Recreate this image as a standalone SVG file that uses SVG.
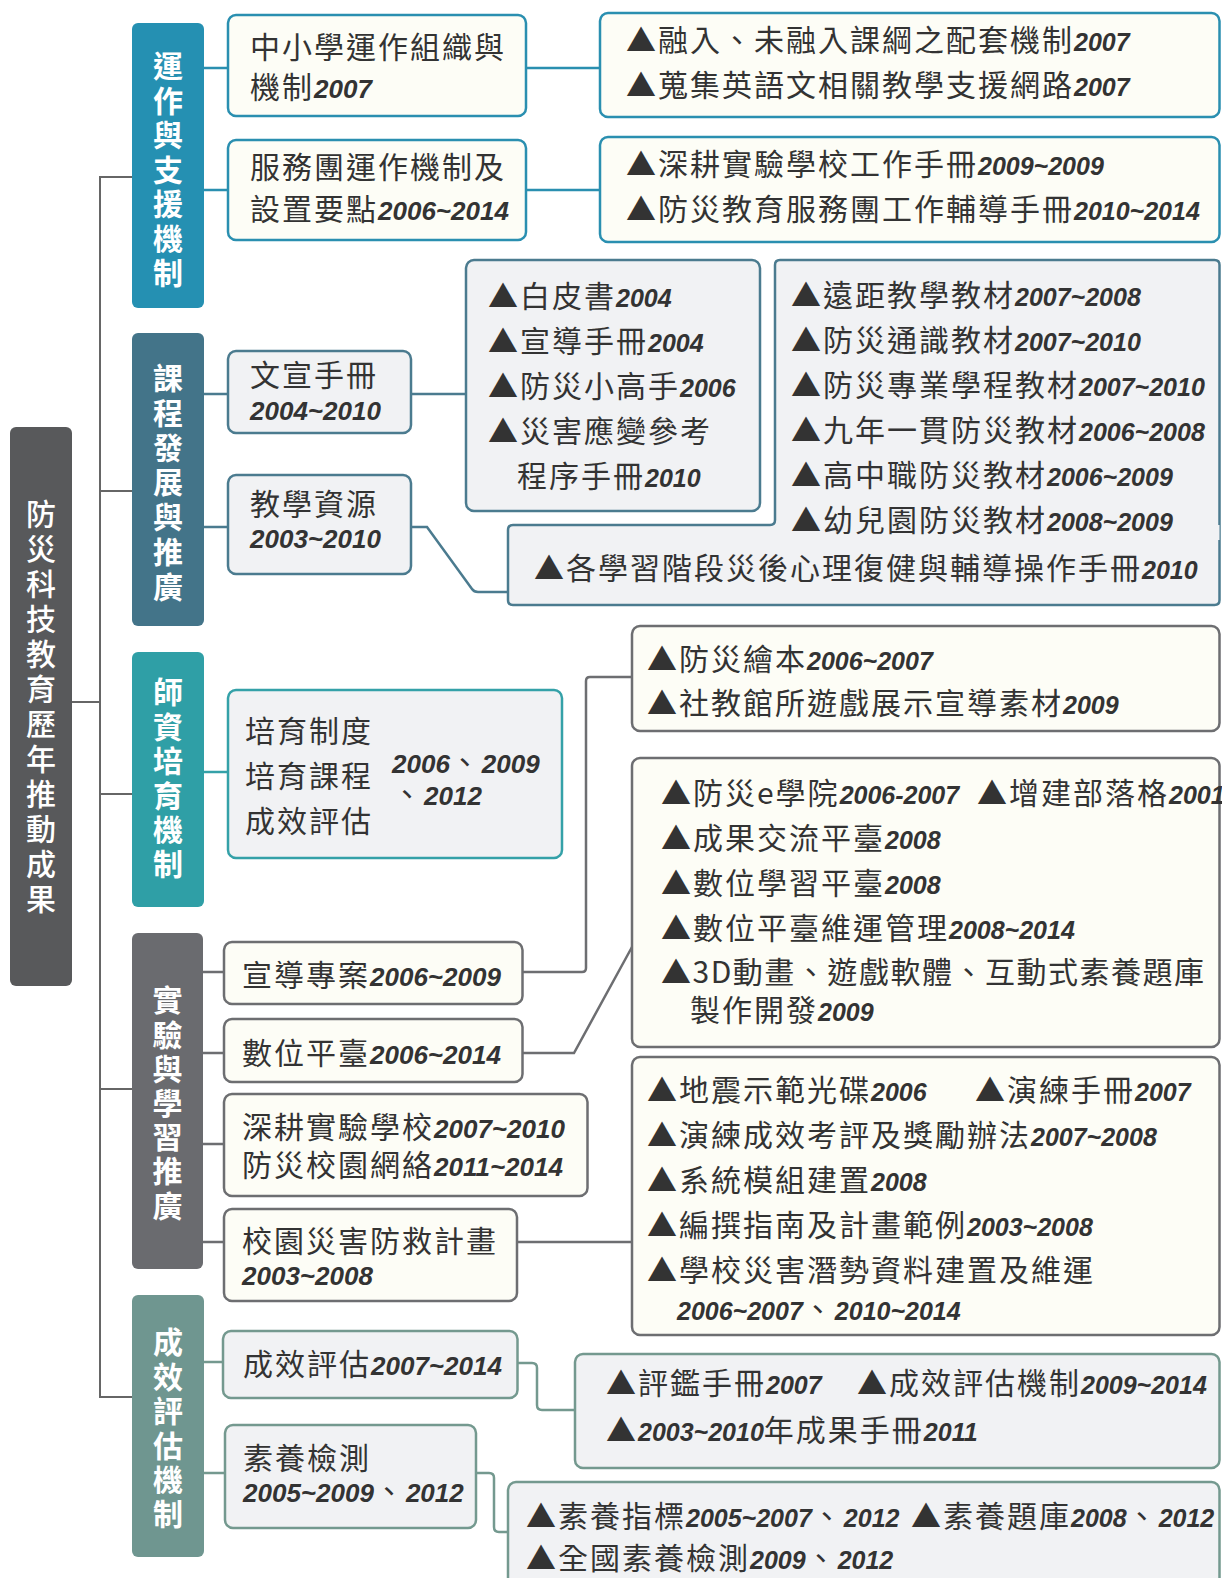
<svg xmlns="http://www.w3.org/2000/svg" width="1222" height="1578" viewBox="0 0 1222 1578">
<style>
text.t{font-family:"Noto Sans CJK TC","Noto Sans CJK SC",sans-serif;font-size:30px;fill:#333;letter-spacing:2px}
tspan.d{font-family:"Liberation Sans",Arial,sans-serif;font-weight:bold;font-style:italic;font-size:26px;letter-spacing:0px}
tspan.s{font-size:25px}
text.c{font-family:"Noto Sans CJK TC","Noto Sans CJK SC",sans-serif;font-size:30px;font-weight:bold;fill:#fff;writing-mode:vertical-rl;text-orientation:upright}
text.rt{font-weight:500}
.n{stroke-width:2.5}
.cr{fill:#fdfdf6}
.gr{fill:#f1f2f4}
.k1{stroke:#2a8fb0}
.k2{stroke:#4b7b8f}
.k3{stroke:#34a1a8}
.k4{stroke:#6d6e71}
.k5{stroke:#74998f}
.w{fill:none;stroke-width:2.5}
.tr{fill:none;stroke:#666;stroke-width:2}
</style>

<g id="connectors">
  <path class="tr" d="M132,177 H100 V1397 H132"/>
  <path class="tr" d="M72,702 H100 M100,491 H132 M100,794 H132 M100,1089 H132"/>
  <path class="w k1" d="M204,68 H228 M204,190 H228 M526,68 H600 M526,190 H600"/>
  <path class="w k2" d="M204,394 H228 M204,527 H228 M411,394 H466"/>
  <path class="w k2" d="M411,527 H427 L472,589 Q474,592 478,592 H508"/>
  <path class="w k3" d="M204,772 H228"/>
  <path class="w k4" d="M203,972 H224 M203,1053 H224 M203,1144 H224 M203,1242 H224"/>
  <path class="w k4" d="M522,972 H582 Q586,972 586,968 V681 Q586,677 590,677 H632"/>
  <path class="w k4" d="M522,1053 H574 L632,947"/>
  <path class="w k4" d="M517,1242 H632"/>
  <path class="w k5" d="M204,1362 H223 M204,1473 H225"/>
  <path class="w k5" d="M517,1363 H532 Q537,1363 537,1368 V1405 Q537,1410 542,1410 H575"/>
  <path class="w k5" d="M476,1473 H489 Q494,1473 494,1478 V1527 Q494,1532 499,1532 H508"/>
</g>

<g id="root">
  <rect x="10" y="427" width="62" height="559" rx="6" fill="#58595b"/>
  <text class="c rt" x="41" y="499" style="letter-spacing:5px">防災科技教育歷年推動成果</text>
</g>

<g id="cat1">
  <rect x="132" y="23" width="72" height="285" rx="6" fill="#2590b2"/>
  <text class="c" x="168" y="51" style="letter-spacing:4.5px">運作與支援機制</text>
</g>
<g id="cat2">
  <rect x="132" y="333" width="72" height="293" rx="6" fill="#437489"/>
  <text class="c" x="168" y="363" style="letter-spacing:4.7px">課程發展與推廣</text>
</g>
<g id="cat3">
  <rect x="132" y="652" width="72" height="255" rx="6" fill="#2f9fa6"/>
  <text class="c" x="168" y="677" style="letter-spacing:4.4px">師資培育機制</text>
</g>
<g id="cat4">
  <rect x="132" y="933" width="71" height="336" rx="6" fill="#6a6b6f"/>
  <text class="c" x="167.5" y="985" style="letter-spacing:4.2px">實驗與學習推廣</text>
</g>
<g id="cat5">
  <rect x="132" y="1295" width="72" height="262" rx="6" fill="#6f9690"/>
  <text class="c" x="168" y="1327" style="letter-spacing:4.4px">成效評估機制</text>
</g>

<g id="n1">
  <rect class="n k1 cr" x="228" y="15" width="298" height="101" rx="8"/>
  <text class="t" x="250" y="58">中小學運作組織與</text>
  <text class="t" x="250" y="98">機制<tspan class="d">2007</tspan></text>
</g>
<g id="n2">
  <rect class="n k1 cr" x="228" y="140" width="298" height="100" rx="8"/>
  <text class="t" x="250" y="178">服務團運作機制及</text>
  <text class="t" x="250" y="220">設置要點<tspan class="d">2006~2014</tspan></text>
</g>
<g id="r1">
  <rect class="n k1 cr" x="600" y="13" width="619.5" height="104" rx="8"/>
  <text class="t" x="626" y="51">▲融入、未融入課綱之配套機制<tspan class="d s">2007</tspan></text>
  <text class="t" x="626" y="96">▲蒐集英語文相關教學支援網路<tspan class="d s">2007</tspan></text>
</g>
<g id="r2">
  <rect class="n k1 cr" x="600" y="137" width="619.5" height="105" rx="8"/>
  <text class="t" x="626" y="175">▲深耕實驗學校工作手冊<tspan class="d s">2009~2009</tspan></text>
  <text class="t" x="626" y="220">▲防災教育服務團工作輔導手冊<tspan class="d s">2010~2014</tspan></text>
</g>

<g id="n3">
  <rect class="n k2 gr" x="228" y="351" width="183" height="82" rx="8"/>
  <text class="t" x="250" y="386">文宣手冊</text>
  <text class="t" x="250" y="420"><tspan class="d">2004~2010</tspan></text>
</g>
<g id="n4">
  <rect class="n k2 gr" x="228" y="475" width="183" height="99" rx="8"/>
  <text class="t" x="250" y="515">教學資源</text>
  <text class="t" x="250" y="548"><tspan class="d">2003~2010</tspan></text>
</g>
<g id="r3">
  <rect class="n k2 gr" x="466" y="260" width="294" height="251" rx="8"/>
  <text class="t" x="488" y="307">▲白皮書<tspan class="d s">2004</tspan></text>
  <text class="t" x="488" y="352">▲宣導手冊<tspan class="d s">2004</tspan></text>
  <text class="t" x="488" y="397">▲防災小高手<tspan class="d s">2006</tspan></text>
  <text class="t" x="488" y="442">▲災害應變參考</text>
  <text class="t" x="517" y="487">程序手冊<tspan class="d s">2010</tspan></text>
</g>
<g id="r5">
  <path class="gr" d="M513,525 H1219.5 V600 Q1219.5,605 1214.5,605 H513 Q508,605 508,600 V530 Q508,525 513,525 Z"/>
  <path class="w k2" d="M770,525 H513 Q508,525 508,530 V600 Q508,605 513,605 H1214.5 Q1219.5,605 1219.5,600 V525"/>
  <text class="t" x="534" y="579">▲各學習階段災後心理復健與輔導操作手冊<tspan class="d s">2010</tspan></text>
</g>
<g id="r4">
  <path class="gr" d="M780,260 H1214.5 Q1219.5,260 1219.5,265 V540 H775 V265 Q775,260 780,260 Z"/>
  <path class="w k2" d="M770,525 Q775,525 775,520 V265 Q775,260 780,260 H1214.5 Q1219.5,260 1219.5,265 V525"/>
  <text class="t" x="791" y="306">▲遠距教學教材<tspan class="d s">2007~2008</tspan></text>
  <text class="t" x="791" y="351">▲防災通識教材<tspan class="d s">2007~2010</tspan></text>
  <text class="t" x="791" y="396">▲防災專業學程教材<tspan class="d s">2007~2010</tspan></text>
  <text class="t" x="791" y="441">▲九年一貫防災教材<tspan class="d s">2006~2008</tspan></text>
  <text class="t" x="791" y="486">▲高中職防災教材<tspan class="d s">2006~2009</tspan></text>
  <text class="t" x="791" y="531">▲幼兒園防災教材<tspan class="d s">2008~2009</tspan></text>
</g>

<g id="n5">
  <rect class="n k3 gr" x="228" y="690" width="334" height="168" rx="8"/>
  <text class="t" x="245" y="742">培育制度</text>
  <text class="t" x="245" y="787">培育課程</text>
  <text class="t" x="245" y="832">成效評估</text>
  <text class="t" x="392" y="773"><tspan class="d">2006</tspan>、<tspan class="d">2009</tspan></text>
  <text class="t" x="392" y="805">、<tspan class="d">2012</tspan></text>
</g>

<g id="n6">
  <rect class="n k4 cr" x="224" y="942" width="298.5" height="62" rx="8"/>
  <text class="t" x="242" y="986">宣導專案<tspan class="d">2006~2009</tspan></text>
</g>
<g id="n7">
  <rect class="n k4 cr" x="224" y="1019" width="298.5" height="63" rx="8"/>
  <text class="t" x="242" y="1064">數位平臺<tspan class="d">2006~2014</tspan></text>
</g>
<g id="n8">
  <rect class="n k4 cr" x="224" y="1094" width="363.5" height="102" rx="8"/>
  <text class="t" x="242" y="1138">深耕實驗學校<tspan class="d">2007~2010</tspan></text>
  <text class="t" x="242" y="1176">防災校園網絡<tspan class="d">2011~2014</tspan></text>
</g>
<g id="n9">
  <rect class="n k4 cr" x="224" y="1209" width="293" height="92" rx="8"/>
  <text class="t" x="242" y="1252">校園災害防救計畫</text>
  <text class="t" x="242" y="1285"><tspan class="d">2003~2008</tspan></text>
</g>
<g id="r6">
  <rect class="n k4 cr" x="632" y="626" width="587.5" height="105" rx="8"/>
  <text class="t" x="647" y="670">▲防災繪本<tspan class="d s">2006~2007</tspan></text>
  <text class="t" x="647" y="714">▲社教館所遊戲展示宣導素材<tspan class="d s">2009</tspan></text>
</g>
<g id="r7">
  <rect class="n k4 cr" x="632" y="758" width="587.5" height="289" rx="8"/>
  <text class="t" x="661" y="804">▲防災e學院<tspan class="d s">2006-2007</tspan></text>
  <text class="t" x="977" y="804">▲增建部落格<tspan class="d s">2001</tspan></text>
  <text class="t" x="661" y="849">▲成果交流平臺<tspan class="d s">2008</tspan></text>
  <text class="t" x="661" y="894">▲數位學習平臺<tspan class="d s">2008</tspan></text>
  <text class="t" x="661" y="939">▲數位平臺維運管理<tspan class="d s">2008~2014</tspan></text>
  <text class="t" x="661" y="983" textLength="545" lengthAdjust="spacing">▲3D動畫、遊戲軟體、互動式素養題庫</text>
  <text class="t" x="690" y="1021">製作開發<tspan class="d s">2009</tspan></text>
</g>
<g id="r8">
  <rect class="n k4 cr" x="632" y="1057" width="587.5" height="278" rx="8"/>
  <text class="t" x="647" y="1101">▲地震示範光碟<tspan class="d s">2006</tspan></text>
  <text class="t" x="975" y="1101">▲演練手冊<tspan class="d s">2007</tspan></text>
  <text class="t" x="647" y="1146">▲演練成效考評及獎勵辦法<tspan class="d s">2007~2008</tspan></text>
  <text class="t" x="647" y="1191">▲系統模組建置<tspan class="d s">2008</tspan></text>
  <text class="t" x="647" y="1236">▲編撰指南及計畫範例<tspan class="d s">2003~2008</tspan></text>
  <text class="t" x="647" y="1281">▲學校災害潛勢資料建置及維運</text>
  <text class="t" x="677" y="1320"><tspan class="d s">2006~2007</tspan>、<tspan class="d s">2010~2014</tspan></text>
</g>

<g id="n10">
  <rect class="n k5 gr" x="223" y="1331" width="294.5" height="67" rx="8"/>
  <text class="t" x="243" y="1375">成效評估<tspan class="d">2007~2014</tspan></text>
</g>
<g id="n11">
  <rect class="n k5 gr" x="225" y="1425" width="251" height="103" rx="8"/>
  <text class="t" x="243" y="1469">素養檢測</text>
  <text class="t" x="243" y="1502"><tspan class="d">2005~2009</tspan>、<tspan class="d">2012</tspan></text>
</g>
<g id="r9">
  <rect class="n k5 gr" x="575" y="1354" width="644.5" height="114" rx="8"/>
  <text class="t" x="606" y="1394">▲評鑑手冊<tspan class="d s">2007</tspan></text>
  <text class="t" x="857" y="1394">▲成效評估機制<tspan class="d s">2009~2014</tspan></text>
  <text class="t" x="606" y="1441">▲<tspan class="d s">2003~2010</tspan>年成果手冊<tspan class="d s">2011</tspan></text>
</g>
<g id="r10">
  <rect class="n k5 gr" x="508" y="1482" width="711.5" height="130" rx="8"/>
  <text class="t" x="526" y="1527">▲素養指標<tspan class="d s">2005~2007</tspan>、<tspan class="d s">2012</tspan></text>
  <text class="t" x="911" y="1527">▲素養題庫<tspan class="d s">2008</tspan>、<tspan class="d s">2012</tspan></text>
  <text class="t" x="526" y="1569">▲全國素養檢測<tspan class="d s">2009</tspan>、<tspan class="d s">2012</tspan></text>
</g>
</svg>
